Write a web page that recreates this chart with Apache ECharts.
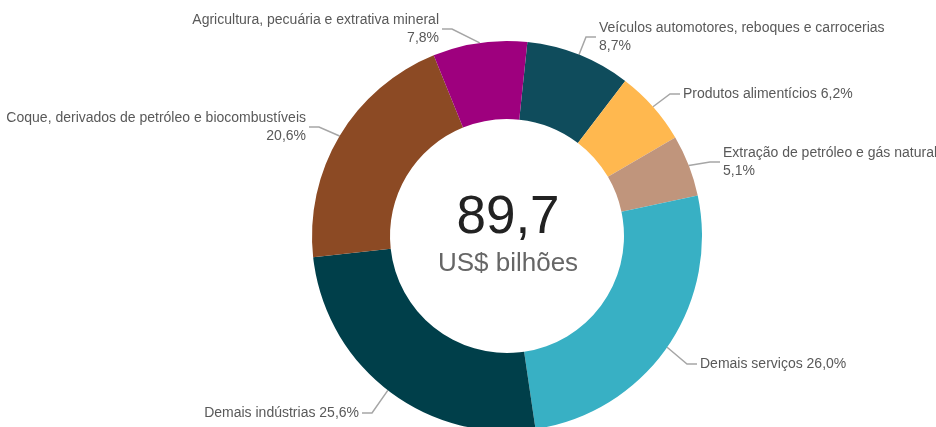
<!DOCTYPE html>
<html>
<head>
<meta charset="utf-8">
<script src="https://cdn.jsdelivr.net/npm/echarts@6/dist/echarts.min.js"></script>
<style>
  html, body { margin: 0; padding: 0; background: #fff; }
  #chart { width: 936px; height: 427px; }
</style>
</head>
<body>
<div id="chart"></div>
<script>
// setores, em ordem horária a partir do topo
const sectors = [
  'Veículos automotores, reboques e carrocerias',
  'Produtos alimentícios',
  'Extração de petróleo e gás natural',
  'Demais serviços',
  'Demais indústrias',
  'Coque, derivados de petróleo e biocombustíveis',
  'Agricultura, pecuária e extrativa mineral'
];
const shares = [8.7, 6.2, 5.1, 26.0, 25.6, 20.6, 7.8];
const totalValue = '89,7';
const totalUnit = 'US$ bilhões';

const colors = ['#0F4C5C', '#FFB84F', '#C0957C', '#38B0C4', '#003F4A', '#8C4A24', '#9E007E'];
// rótulo em duas linhas ou uma
const twoLines = [true, false, true, false, false, true, true];
// onde fica cada rótulo (ponto de ancoragem do texto)
const labelSpots = [[596, 37, 'left'], [680, 94, 'left'], [720, 162, 'left'], [697, 364, 'left'],
                    [362, 413, 'right'], [309, 127, 'right'], [442, 29, 'right']];

const FONT = 'Liberation Sans, Arial, sans-serif';
const chart = echarts.init(document.getElementById('chart'));

const fmt = v => v.toFixed(1).replace('.', ',') + '%';

chart.setOption({
  animation: false,
  textStyle: { fontFamily: FONT },
  graphic: [
    {
      type: 'text', x: 508, y: 218,
      style: { text: totalValue, fontSize: 53, fill: '#222', fontFamily: FONT, align: 'center', verticalAlign: 'middle' }
    },
    {
      type: 'text', x: 508, y: 264,
      style: { text: totalUnit, fontSize: 26, fill: '#666', fontFamily: FONT, align: 'center', verticalAlign: 'middle' }
    }
  ],
  series: [{
    type: 'pie',
    center: [507, 236],
    radius: [117, 195],
    startAngle: 84,
    clockwise: true,
    avoidLabelOverlap: false,
    itemStyle: { borderWidth: 0 },
    label: {
      show: true,
      position: 'outside',
      color: '#595959',
      fontSize: 14,
      lineHeight: 18,
      padding: [0, 3],
      fontFamily: FONT,
      formatter: p => twoLines[p.dataIndex] ? p.name + '\n' + fmt(p.value) : p.name + ' ' + fmt(p.value)
    },
    labelLine: {
      show: true,
      length: 14,
      length2: 10,
      lineStyle: { color: '#A6A6A6', width: 1.5 }
    },
    labelLayout: p => {
      const s = labelSpots[p.dataIndex];
      return { x: s[0], y: s[1], align: s[2], verticalAlign: 'middle' };
    },
    data: sectors.map((name, i) => ({
      name,
      value: shares[i],
      itemStyle: { color: colors[i] },
      label: { align: labelSpots[i][2] }
    }))
  }]
});
</script>
</body>
</html>
